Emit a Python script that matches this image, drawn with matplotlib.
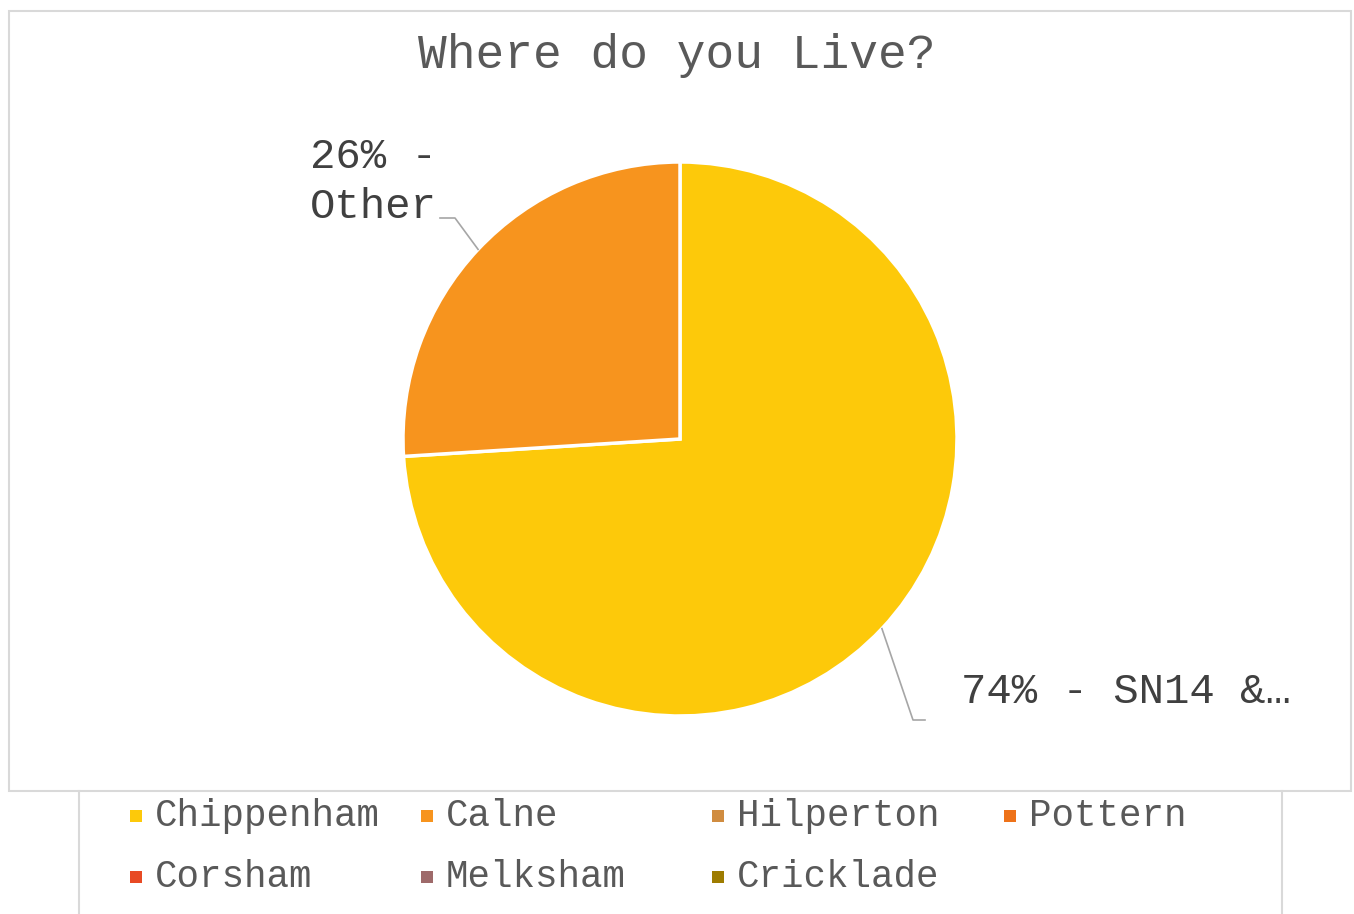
import matplotlib
matplotlib.use("Agg")
import matplotlib.pyplot as plt
import numpy as np
from matplotlib.patches import Rectangle
from matplotlib.lines import Line2D

# ---- data ----
categories = ["Chippenham", "Calne", "Hilperton", "Pottern", "Corsham", "Melksham", "Cricklade"]
values = [74, 26, 0, 0, 0, 0, 0]
slice_labels = ["SN14 &\u2026", "Other"]
colors = ["#FDC90A", "#F7941E", "#D08C40", "#EE7219", "#E84A24", "#9E6A6A", "#9E7C00"]
title = "Where do you Live?"

W, H = 1354, 914
fig = plt.figure(figsize=(W / 100, H / 100), dpi=100)
FONT = "Liberation Mono"

def fx(px):
    return px / W

def fy(py):
    return 1 - py / H

# chart border
fig.add_artist(Rectangle((fx(8.5), fy(791)), fx(1351) - fx(8.5), fy(10.5) - fy(791),
                         transform=fig.transFigure, fill=False, edgecolor="#D9D9D9", lw=1.5))
# legend box side lines
for xx in (79, 1282):
    fig.add_artist(Line2D([fx(xx), fx(xx)], [fy(791), fy(914)], transform=fig.transFigure,
                          color="#D9D9D9", lw=1.5))

# pie axes
cx, cy, r = 680, 439, 277
ax = fig.add_axes([fx(cx - r), fy(cy + r), (2 * r) / W, (2 * r) / H])
nz = [(v, c) for v, c in zip(values, colors) if v > 0]
vals = [v for v, _ in nz]
cols = [c for _, c in nz]
wedges, _ = ax.pie(vals, colors=cols, startangle=90, counterclock=False, radius=1,
                   wedgeprops=dict(edgecolor="white", linewidth=2.5))
ax.set_xlim(-1, 1)
ax.set_ylim(-1, 1)
ax.set_aspect("equal")
ax.axis("off")

def d(px, py):
    return ((px - cx) / r, (cy - py) / r)

total = sum(vals)
label_cfg = [
    # elbow, end, text pos, ha
    (d(913, 720), d(925, 720), d(961, 692), "left", "{p}% - {n}"),
    (d(455, 218), d(440, 218), d(437, 182), "right", "{p}% -\n{n}"),
]
for w, v, name, cfg in zip(wedges, vals, slice_labels, label_cfg):
    ang = np.deg2rad((w.theta1 + w.theta2) / 2)
    ex, ey = np.cos(ang), np.sin(ang)
    (elx, ely), (enx, eny), (tx, ty), ha, fmt = cfg
    ax.plot([ex, elx, enx], [ey, ely, eny], color="#A6A6A6", lw=1.2, clip_on=False)
    txt = fmt.format(p=round(100 * v / total), n=name)
    ax.text(tx, ty, txt, ha=ha, va="center", fontsize=30.5, color="#404040",
            family=[FONT, "DejaVu Sans"], linespacing=1.3, clip_on=False)

fig.text(0.5, fy(55), title, ha="center", va="center", fontsize=34.5, color="#595959", family=FONT)

# legend
col_x = [130, 421, 712, 1004]
row_y = [816, 877]
for i, (name, c) in enumerate(zip(categories, colors)):
    row, col = divmod(i, 4)
    x0, y0 = col_x[col], row_y[row]
    fig.add_artist(Rectangle((fx(x0), fy(y0 + 6)), 12 / W, 12 / H, transform=fig.transFigure,
                             facecolor=c, edgecolor="none"))
    fig.text(fx(x0 + 25), fy(y0), name, ha="left", va="center", fontsize=27,
             color="#595959", family=FONT)

fig.savefig("out.png", dpi=100)
